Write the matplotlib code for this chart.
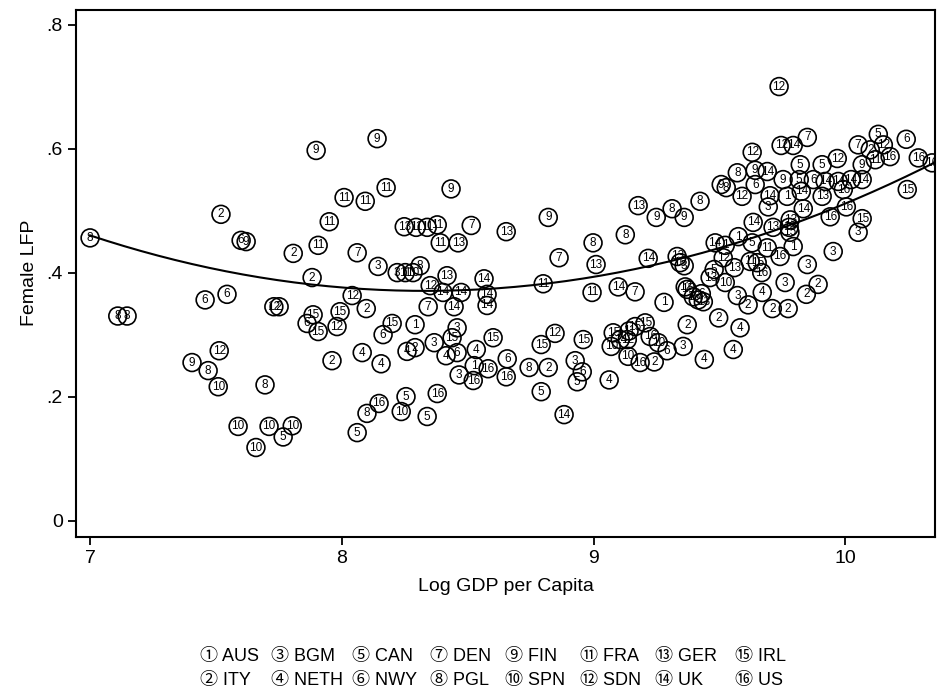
import numpy as np
import matplotlib
matplotlib.use("Agg")
import matplotlib.pyplot as plt
from matplotlib import font_manager

# --- data: (log GDP per capita, female LFP) per country ---
AUS = [(8.291, 0.316), (8.526, 0.25), (9.28, 0.352), (9.523, 0.444), (9.575, 0.458),
       (9.769, 0.523), (9.793, 0.442)]
ITY = [(7.52, 0.494), (7.751, 0.345), (7.807, 0.431), (7.882, 0.392), (7.961, 0.258),
       (8.097, 0.342), (8.291, 0.279), (8.82, 0.247), (9.614, 0.348), (9.497, 0.327),
       (9.372, 0.316), (9.241, 0.256), (9.892, 0.381), (9.845, 0.365), (9.71, 0.342),
       (9.773, 0.342), (10.099, 0.598)]
BGM = [(8.144, 0.41), (8.22, 0.40), (8.367, 0.287), (8.458, 0.311), (8.466, 0.235),
       (8.927, 0.258), (9.36, 0.411), (9.571, 0.363), (9.356, 0.281), (9.694, 0.506),
       (9.952, 0.434), (9.849, 0.413), (9.761, 0.384), (10.051, 0.465)]
NETH = [(8.081, 0.271), (8.259, 0.273), (8.156, 0.253), (8.414, 0.266), (8.534, 0.276),
        (9.582, 0.311), (9.555, 0.276), (9.44, 0.26), (9.062, 0.227), (9.67, 0.368)]
CAN = [(7.767, 0.135), (8.255, 0.20), (8.339, 0.168), (8.061, 0.142), (8.935, 0.224),
       (8.792, 0.208), (9.63, 0.448), (9.479, 0.405), (9.821, 0.574), (9.908, 0.574),
       (9.817, 0.55), (10.131, 0.623)]
NWY = [(7.457, 0.356), (7.544, 0.365), (7.60, 0.452), (7.862, 0.318), (8.164, 0.30),
       (8.458, 0.271), (8.657, 0.261), (8.955, 0.24), (9.428, 0.366), (9.292, 0.274),
       (9.642, 0.542), (9.873, 0.55), (10.242, 0.615)]
DEN = [(8.061, 0.432), (8.514, 0.476), (8.863, 0.424), (8.343, 0.345), (9.165, 0.369),
       (9.849, 0.618), (10.051, 0.606)]
PGL = [(7.00, 0.456), (7.11, 0.33), (7.147, 0.33), (7.469, 0.242), (7.695, 0.219),
       (8.311, 0.411), (8.998, 0.448), (8.10, 0.173), (8.744, 0.247), (9.423, 0.515),
       (9.312, 0.503), (9.126, 0.461), (9.416, 0.356), (9.571, 0.561), (9.527, 0.537)]
FIN = [(7.405, 0.255), (7.62, 0.450), (7.898, 0.597), (8.14, 0.616), (8.434, 0.535),
       (8.82, 0.489), (9.249, 0.489), (9.36, 0.489), (9.642, 0.565), (9.507, 0.542),
       (9.753, 0.55), (10.067, 0.574)]
SPN = [(7.509, 0.216), (7.588, 0.152), (7.711, 0.152), (7.659, 0.118), (7.803, 0.153),
       (8.283, 0.40), (8.236, 0.176), (9.523, 0.384), (9.07, 0.281), (9.257, 0.287),
       (9.137, 0.265)]
FRA = [(7.906, 0.444), (7.95, 0.482), (8.009, 0.521), (8.093, 0.515), (8.176, 0.537),
       (8.295, 0.473), (8.339, 0.473), (8.379, 0.477), (8.391, 0.448), (8.252, 0.40),
       (8.80, 0.382), (8.994, 0.368), (9.622, 0.418), (9.141, 0.306), (9.69, 0.44),
       (10.119, 0.582)]
SDN = [(7.513, 0.274), (7.73, 0.345), (8.351, 0.379), (8.041, 0.363), (7.981, 0.313),
       (8.847, 0.302), (9.515, 0.424), (9.364, 0.377), (9.134, 0.292), (9.737, 0.70),
       (9.63, 0.594), (9.745, 0.605), (9.59, 0.523), (9.968, 0.584), (10.151, 0.606)]
GER = [(8.248, 0.474), (8.462, 0.448), (8.653, 0.466), (9.01, 0.413), (8.418, 0.395),
       (9.177, 0.508), (9.332, 0.426), (9.559, 0.408), (9.463, 0.392), (9.436, 0.353),
       (9.908, 0.523), (9.781, 0.485), (9.713, 0.473), (9.777, 0.473)]
UK = [(8.565, 0.39), (8.402, 0.368), (8.474, 0.368), (8.577, 0.365), (8.446, 0.345),
      (8.577, 0.347), (8.883, 0.171), (9.217, 0.423), (9.483, 0.448), (9.098, 0.377),
      (9.106, 0.292), (9.793, 0.605), (9.69, 0.563), (9.634, 0.481), (9.92, 0.547),
      (9.972, 0.547), (10.023, 0.55), (10.067, 0.55), (9.701, 0.524), (9.825, 0.531),
      (9.833, 0.503)]
IRL = [(7.886, 0.332), (7.906, 0.305), (7.993, 0.337), (8.2, 0.318), (8.438, 0.295),
       (8.601, 0.295), (8.792, 0.284), (8.959, 0.292), (9.372, 0.373), (9.078, 0.303),
       (9.165, 0.313), (9.205, 0.319), (9.78, 0.465), (9.65, 0.416), (10.246, 0.534),
       (10.067, 0.487)]
US = [(8.581, 0.245), (8.653, 0.232), (8.522, 0.226), (8.379, 0.205), (8.148, 0.189),
      (9.344, 0.416), (9.396, 0.361), (9.225, 0.297), (9.185, 0.255), (9.992, 0.534),
      (9.94, 0.49), (10.004, 0.506), (9.741, 0.426), (9.668, 0.40), (10.178, 0.587),
      (10.29, 0.585), (10.345, 0.577)]

countries = [AUS, ITY, BGM, NETH, CAN, NWY, DEN, PGL, FIN, SPN, FRA, SDN, GER, UK, IRL, US]
codes = ["AUS", "ITY", "BGM", "NETH", "CAN", "NWY", "DEN", "PGL",
         "FIN", "SPN", "FRA", "SDN", "GER", "UK", "IRL", "US"]
circled = [chr(0x2460 + i) for i in range(16)]

# points
curve_x = [7.0, 8.5, 10.357]
curve_y = [0.46, 0.372, 0.578]

x_ticks = [7, 8, 9, 10]
y_ticks = [0, 0.2, 0.4, 0.6, 0.8]
y_ticklabels = ["0", ".2", ".4", ".6", ".8"]

# fonts
avail = {f.name for f in font_manager.fontManager.ttflist}
base = "Liberation Sans Narrow" if "Liberation Sans Narrow" in avail else "Liberation Sans"
plt.rcParams['font.family'] = [base, 'DejaVu Sans']

fig = plt.figure(figsize=(9.38, 6.9), dpi=100)
ax = fig.add_axes([0.081, 0.222, 0.916, 0.764])

for i, pts in enumerate(countries):
    xs = [p[0] for p in pts]
    ys = [p[1] for p in pts]
    ax.scatter(xs, ys, s=165, facecolors='none', edgecolors='black',
               linewidths=1.2, zorder=3)
    for x, y in pts:
        ax.text(x, y, str(i + 1), ha='center', va='center', fontsize=8.5,
                zorder=4, clip_on=True)

# quadratic fit line
coef = np.polyfit(curve_x, curve_y, 2)
xx = np.linspace(7, 10.36, 200)
ax.plot(xx, np.polyval(coef, xx), color='black', lw=1.5, zorder=2)

ax.set_xlim(6.944, 10.357)
ax.set_ylim(-0.026, 0.824)
ax.set_xticks(x_ticks)
ax.set_xticklabels([str(t) for t in x_ticks], fontsize=14)
ax.set_yticks(y_ticks)
ax.set_yticklabels(y_ticklabels, fontsize=14)
ax.tick_params(direction='out', length=6, width=1.3)
for sp in ax.spines.values():
    sp.set_linewidth(1.5)
ax.set_xlabel("Log GDP per Capita", fontsize=14, labelpad=8)
ax.set_ylabel("Female LFP", fontsize=14, labelpad=6)

# legend below the plot
col_x = [200, 271, 352, 430, 505, 580, 655, 735]
row_y = [657, 681]
for i in range(16):
    col = i // 2
    row = i % 2
    fig.text(col_x[col] / 938, 1 - row_y[row] / 690, circled[i] + " " + codes[i],
             fontsize=13, va='center', ha='left',
             family=[base, 'Noto Sans CJK JP', 'DejaVu Sans'])

fig.savefig("out.png", dpi=100)
